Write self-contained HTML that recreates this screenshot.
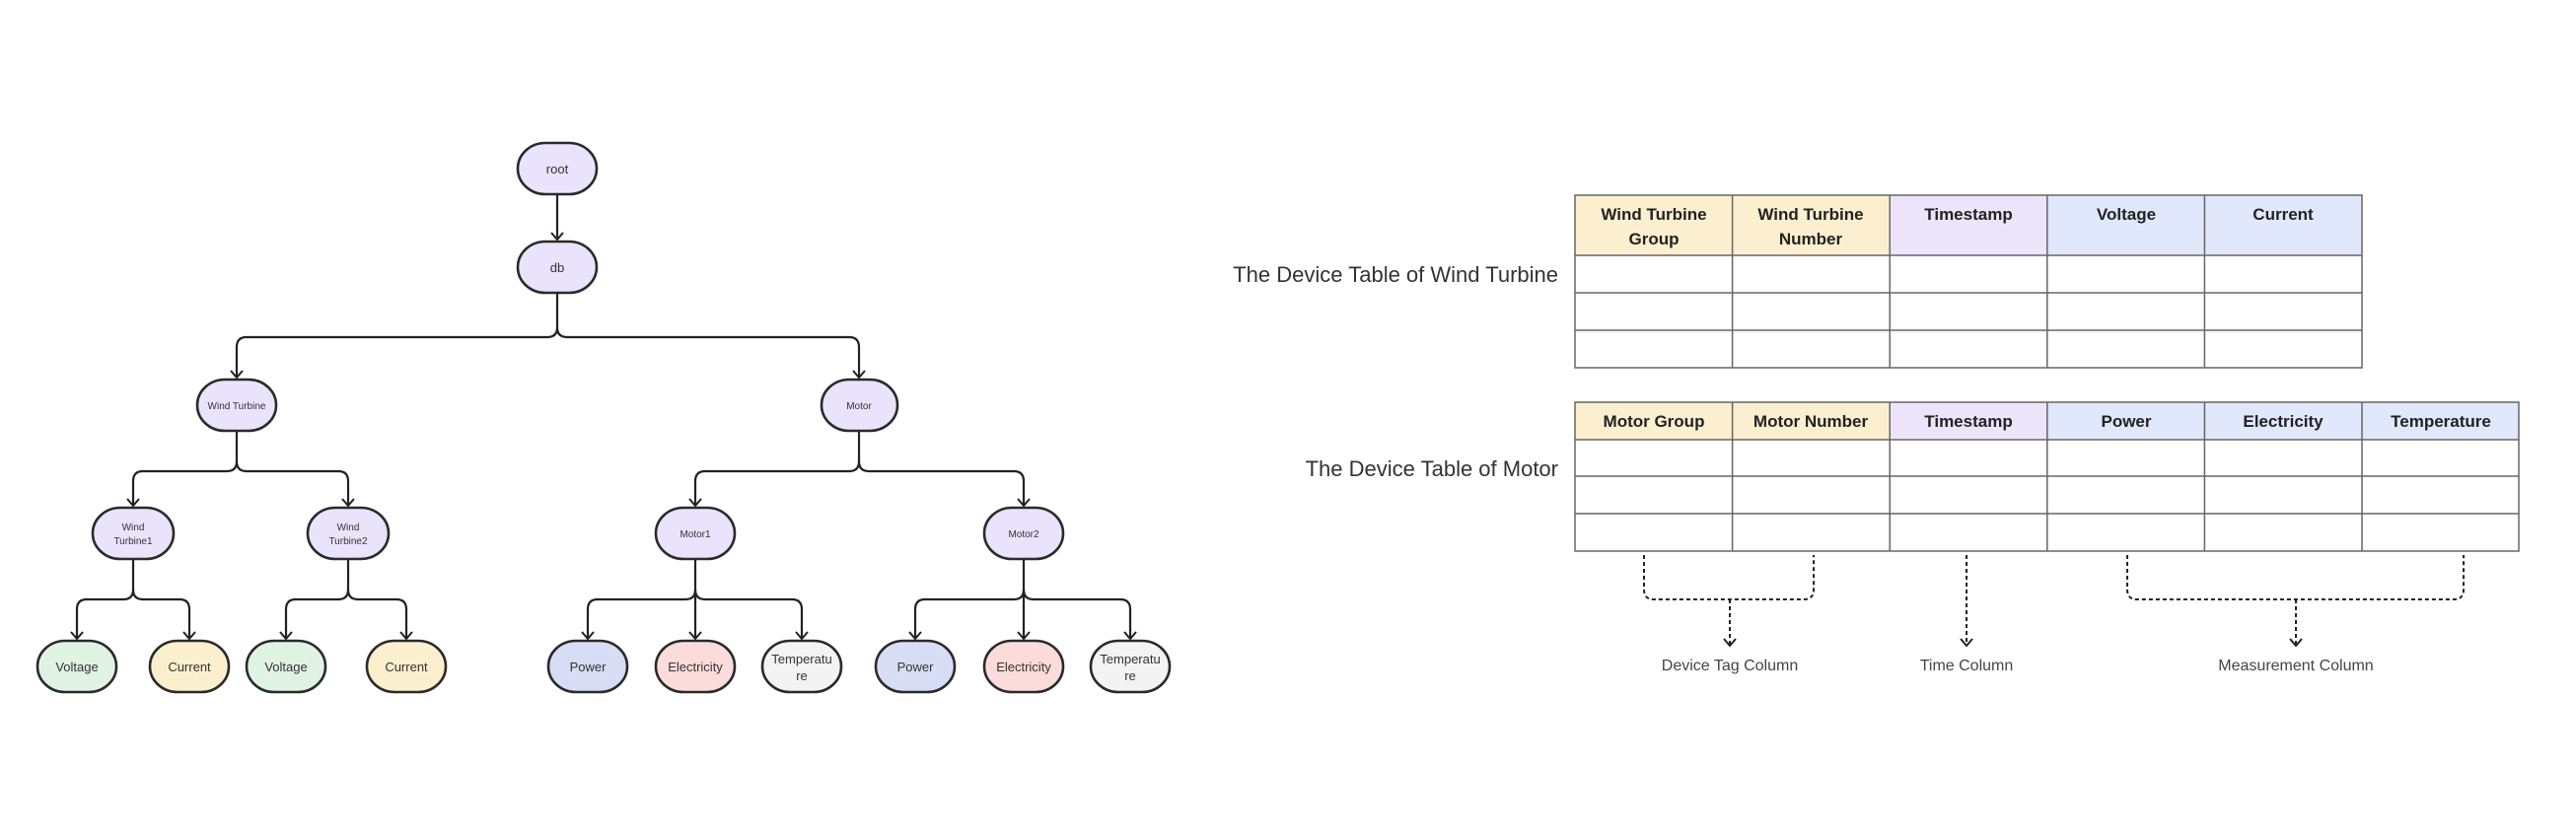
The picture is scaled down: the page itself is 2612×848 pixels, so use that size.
<!DOCTYPE html>
<html><head><meta charset="utf-8"><style>
html,body{margin:0;padding:0;background:#fff;}
svg{display:block;font-family:"Liberation Sans",sans-serif;}
</style></head><body>
<svg width="2612" height="848" viewBox="0 0 2612 848" xmlns="http://www.w3.org/2000/svg">
<defs>
<marker id="ar" markerWidth="14" markerHeight="14" refX="12" refY="7" orient="auto" markerUnits="userSpaceOnUse" viewBox="0 0 14 14">
<path d="M5,1 L12,7 L5,13" fill="none" stroke="#222" stroke-width="2" stroke-dasharray="none"/>
</marker>
</defs>
<g fill="none" stroke="#222" stroke-width="2.2">
<path d="M565,197 V243" marker-end="url(#ar)"/>
<path d="M565,297 V332 Q565,342 555,342 H250 Q240,342 240,352 V383" marker-end="url(#ar)"/>
<path d="M565,332 Q565,342 575,342 H861 Q871,342 871,352 V383" marker-end="url(#ar)"/>
<path d="M240,437 V468 Q240,478 230,478 H145 Q135,478 135,488 V513" marker-end="url(#ar)"/>
<path d="M240,468 Q240,478 250,478 H343 Q353,478 353,488 V513" marker-end="url(#ar)"/>
<path d="M871,437 V468 Q871,478 861,478 H715 Q705,478 705,488 V513" marker-end="url(#ar)"/>
<path d="M871,468 Q871,478 881,478 H1028 Q1038,478 1038,488 V513" marker-end="url(#ar)"/>
<path d="M135,567 V598 Q135,608 125,608 H88 Q78,608 78,618 V648" marker-end="url(#ar)"/>
<path d="M135,598 Q135,608 145,608 H182 Q192,608 192,618 V648" marker-end="url(#ar)"/>
<path d="M353,567 V598 Q353,608 343,608 H300 Q290,608 290,618 V648" marker-end="url(#ar)"/>
<path d="M353,598 Q353,608 363,608 H402 Q412,608 412,618 V648" marker-end="url(#ar)"/>
<path d="M705,567 V648" marker-end="url(#ar)"/>
<path d="M705,598 Q705,608 695,608 H606 Q596,608 596,618 V648" marker-end="url(#ar)"/>
<path d="M705,598 Q705,608 715,608 H803 Q813,608 813,618 V648" marker-end="url(#ar)"/>
<path d="M1038,567 V648" marker-end="url(#ar)"/>
<path d="M1038,598 Q1038,608 1028,608 H938 Q928,608 928,618 V648" marker-end="url(#ar)"/>
<path d="M1038,598 Q1038,608 1048,608 H1136 Q1146,608 1146,618 V648" marker-end="url(#ar)"/>
</g>
<g stroke="#2a2a2a" stroke-width="2.6">
<rect x="525" y="145" width="80" height="52" rx="28" fill="#e9e3fb"/>
<rect x="525" y="245" width="80" height="52" rx="28" fill="#e9e3fb"/>
<rect x="200" y="385" width="80" height="52" rx="28" fill="#e9e3fb"/>
<rect x="833" y="385" width="77" height="52" rx="28" fill="#e9e3fb"/>
<rect x="94" y="515" width="82" height="52" rx="28" fill="#e9e3fb"/>
<rect x="312" y="515" width="82" height="52" rx="28" fill="#e9e3fb"/>
<rect x="665" y="515" width="80" height="52" rx="28" fill="#e9e3fb"/>
<rect x="998" y="515" width="80" height="52" rx="28" fill="#e9e3fb"/>
<rect x="38" y="650" width="80" height="52" rx="28" fill="#dff3e3"/>
<rect x="152" y="650" width="80" height="52" rx="28" fill="#fcefcd"/>
<rect x="250" y="650" width="80" height="52" rx="28" fill="#dff3e3"/>
<rect x="372" y="650" width="80" height="52" rx="28" fill="#fcefcd"/>
<rect x="556" y="650" width="80" height="52" rx="28" fill="#d7ddf5"/>
<rect x="665" y="650" width="80" height="52" rx="28" fill="#fbdcdb"/>
<rect x="773" y="650" width="80" height="52" rx="28" fill="#f3f3f3"/>
<rect x="888" y="650" width="80" height="52" rx="28" fill="#d7ddf5"/>
<rect x="998" y="650" width="80" height="52" rx="28" fill="#fbdcdb"/>
<rect x="1106" y="650" width="80" height="52" rx="28" fill="#f3f3f3"/>
</g>
<g fill="#333" text-anchor="middle" font-size="13">
<text x="565" y="176">root</text>
<text x="565" y="276">db</text>
<text x="240" y="415" font-size="10">Wind Turbine</text>
<text x="871" y="415" font-size="10">Motor</text>
<text x="135" y="538" font-size="10">Wind</text><text x="135" y="552" font-size="10">Turbine1</text>
<text x="353" y="538" font-size="10">Wind</text><text x="353" y="552" font-size="10">Turbine2</text>
<text x="705" y="545" font-size="10">Motor1</text>
<text x="1038" y="545" font-size="10">Motor2</text>
<text x="78" y="681">Voltage</text>
<text x="192" y="681">Current</text>
<text x="290" y="681">Voltage</text>
<text x="412" y="681">Current</text>
<text x="596" y="681">Power</text>
<text x="705" y="681">Electricity</text>
<text x="813" y="673">Temperatu</text><text x="813" y="690">re</text>
<text x="928" y="681">Power</text>
<text x="1038" y="681">Electricity</text>
<text x="1146" y="673">Temperatu</text><text x="1146" y="690">re</text>
</g>
<rect x="1597" y="198" width="319" height="61" fill="#fcefcf"/>
<rect x="1916" y="198" width="160" height="61" fill="#ece4fb"/>
<rect x="2076" y="198" width="319" height="61" fill="#e1e8fb"/>
<g stroke="#666" stroke-width="1.5" fill="none">
<rect x="1597" y="198" width="798" height="175"/>
<path d="M1597,259 H2395 M1597,297 H2395 M1597,335 H2395"/>
<path d="M1756.6,198 V373 M1916.2,198 V373 M2075.8,198 V373 M2235.4,198 V373"/>
</g>
<rect x="1597" y="408" width="319" height="38" fill="#fcefcf"/>
<rect x="1916" y="408" width="160" height="38" fill="#ece4fb"/>
<rect x="2076" y="408" width="478" height="38" fill="#e1e8fb"/>
<g stroke="#666" stroke-width="1.5" fill="none">
<rect x="1597" y="408" width="957" height="151"/>
<path d="M1597,446 H2554 M1597,483 H2554 M1597,521 H2554"/>
<path d="M1756.6,408 V559 M1916.2,408 V559 M2075.8,408 V559 M2235.4,408 V559 M2395,408 V559"/>
</g>
<g fill="#222" font-weight="bold" font-size="17" text-anchor="middle">
<text x="1677" y="223">Wind Turbine</text><text x="1677" y="248">Group</text>
<text x="1836" y="223">Wind Turbine</text><text x="1836" y="248">Number</text>
<text x="1996" y="223">Timestamp</text>
<text x="2156" y="223">Voltage</text>
<text x="2315" y="223">Current</text>
<text x="1677" y="433">Motor Group</text>
<text x="1836" y="433">Motor Number</text>
<text x="1996" y="433">Timestamp</text>
<text x="2156" y="433">Power</text>
<text x="2315" y="433">Electricity</text>
<text x="2475" y="433">Temperature</text>
</g>
<g fill="#333" font-size="22" text-anchor="end">
<text x="1580" y="286">The Device Table of Wind Turbine</text>
<text x="1580" y="483">The Device Table of Motor</text>
</g>
<g fill="none" stroke="#222" stroke-width="2" stroke-dasharray="4,3">
<path d="M1667,563 V598 Q1667,608 1677,608 H1829 Q1839,608 1839,598 V563"/>
<path d="M1754,608 V655" marker-end="url(#ar)"/>
<path d="M1994,563 V655" marker-end="url(#ar)"/>
<path d="M2157,563 V598 Q2157,608 2167,608 H2488 Q2498,608 2498,598 V563"/>
<path d="M2328,608 V655" marker-end="url(#ar)"/>
</g>
<g fill="#444" font-size="16" text-anchor="middle">
<text x="1754" y="680">Device Tag Column</text>
<text x="1994" y="680">Time Column</text>
<text x="2328" y="680">Measurement Column</text>
</g>
</svg>
</body></html>
